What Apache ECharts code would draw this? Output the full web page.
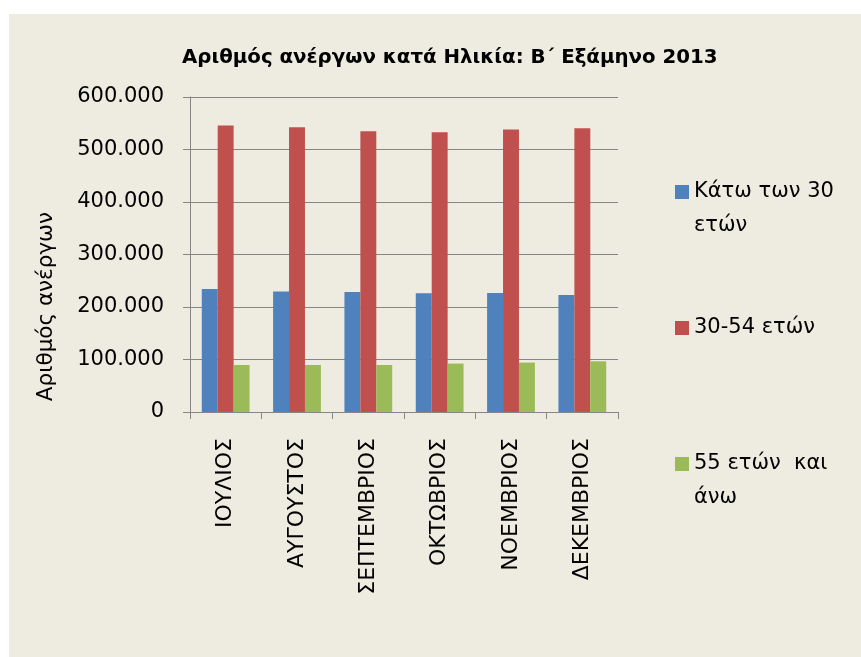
<!DOCTYPE html>
<html>
<head>
<meta charset="utf-8">
<script src="https://cdn.jsdelivr.net/npm/echarts@6/dist/echarts.min.js"></script>
<style>
html,body{margin:0;padding:0;background:#fff;}
#chart{width:861px;height:657px;background:linear-gradient(#EEECE1,#EEECE1) 9px 14px / 852px 643px no-repeat, #fff;}
</style>
</head>
<body>
<div id="chart"></div>
<script>
const titleText = 'Αριθμός ανέργων κατά Ηλικία: Β΄ Εξάμηνο 2013';
const yAxisName = 'Αριθμός ανέργων';
const months = ['ΙΟΥΛΙΟΣ', 'ΑΥΓΟΥΣΤΟΣ', 'ΣΕΠΤΕΜΒΡΙΟΣ', 'ΟΚΤΩΒΡΙΟΣ', 'ΝΟΕΜΒΡΙΟΣ', 'ΔΕΚΕΜΒΡΙΟΣ'];
const seriesNames = ['Κάτω των 30 ετών', '30-54 ετών', '55 ετών  και άνω'];
const legendLabels = ['\nΚάτω των 30\nετών', '30-54 ετών', '\n55 ετών  και\nάνω'];
const under30 = [234300, 229300, 228600, 226100, 226700, 222900];
const age30to54 = [545500, 542300, 534700, 532800, 537900, 540400];
const over55 = [89500, 89500, 89500, 92200, 94100, 96600];
const yTicks = [0, 100000, 200000, 300000, 400000, 500000, 600000];
const colors = ['#4F81BD', '#C0504D', '#9BBB59'];

const font = 'DejaVu Sans';
const chart = echarts.init(document.getElementById('chart'), null, {renderer: 'canvas'});
const gridColor = '#868686';

function fmt(v) {
  return String(v).replace(/\B(?=(\d{3})+(?!\d))/g, '.');
}

const valuesList = [under30, age30to54, over55];
chart.setOption({
  backgroundColor: 'transparent',
  color: colors,
  animation: false,
  title: {
    text: titleText,
    left: 182,
    top: 48,
    padding: 0,
    textStyle: {fontFamily: font, fontWeight: 'bold', fontSize: 19.8, color: '#000'}
  },
  legend: {
    orient: 'vertical',
    left: 675,
    top: 141,
    padding: 0,
    itemGap: 68,
    itemWidth: 14,
    itemHeight: 14,
    icon: 'rect',
    data: seriesNames,
    formatter: function (name) { return legendLabels[seriesNames.indexOf(name)]; },
    textStyle: {fontFamily: font, fontSize: 21, color: '#000', lineHeight: 34}
  },
  grid: {left: 190, right: 243, top: 97, bottom: 245},
  xAxis: {
    type: 'category',
    data: months,
    axisLine: {lineStyle: {color: gridColor, width: 1}},
    axisTick: {show: true, length: 7, lineStyle: {color: gridColor}},
    axisLabel: {rotate: 90, margin: 26, fontFamily: font, fontSize: 22, color: '#000'}
  },
  yAxis: {
    type: 'value',
    min: yTicks[0],
    max: yTicks[yTicks.length - 1],
    interval: yTicks[1] - yTicks[0],
    name: yAxisName,
    nameLocation: 'middle',
    nameGap: 133,
    nameRotate: 90,
    nameTextStyle: {fontFamily: font, fontSize: 21.5, color: '#000', padding: [0, 104, 0, 0]},
    axisLine: {show: true, lineStyle: {color: gridColor, width: 1}},
    axisTick: {show: true, length: 7, lineStyle: {color: gridColor}},
    splitLine: {show: true, lineStyle: {color: gridColor, width: 1}},
    axisLabel: {margin: 26, fontFamily: font, fontSize: 21, color: '#000', formatter: fmt}
  },
  series: seriesNames.map(function (n, i) {
    return {
      name: n,
      type: 'bar',
      data: valuesList[i],
      barGap: '0%',
      barCategoryGap: '33%'
    };
  })
});
</script>
</body>
</html>
